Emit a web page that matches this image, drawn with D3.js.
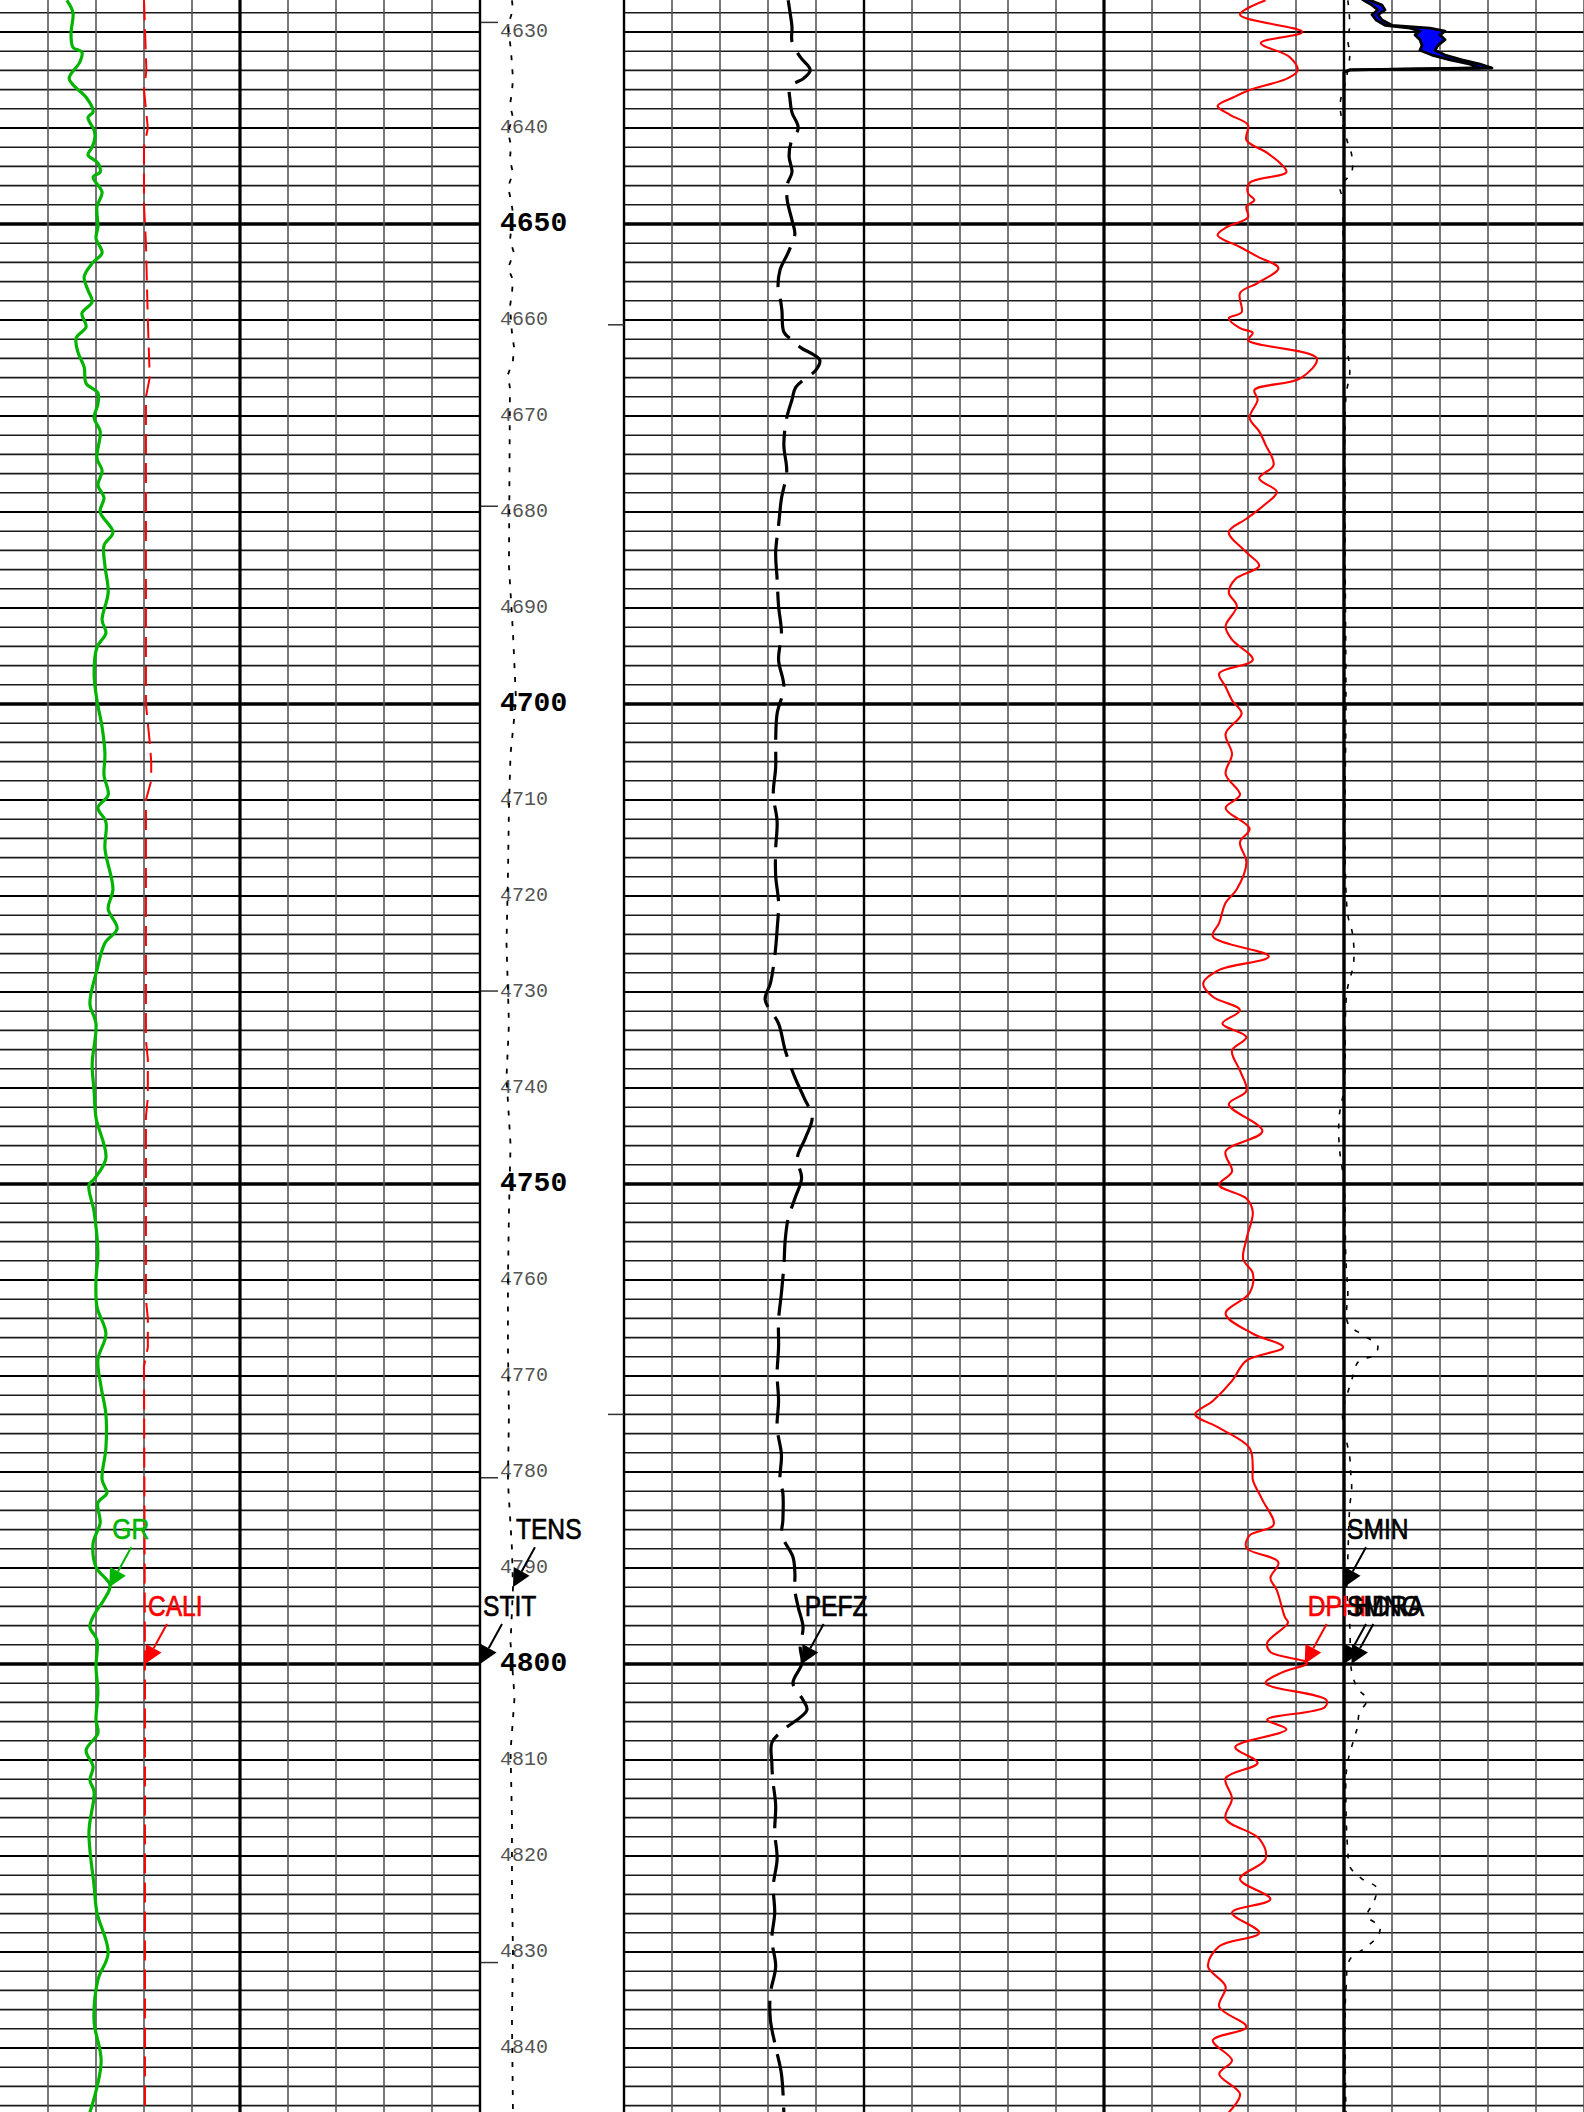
<!DOCTYPE html>
<html>
<head>
<meta charset="utf-8">
<script src="https://cdn.jsdelivr.net/npm/d3@7"></script>
<style>
  html, body { margin: 0; padding: 0; background: #ffffff; }
  svg { display: block; }
</style>
</head>
<body>
<svg id="log" width="1584" height="2112"></svg>
<script>
// ---- Curve data: [depth (ft), value] ----
const grData = [[4626.7,20.9],[4628.0,22.8],[4630.1,22.2],[4631.6,22.8],[4632.1,25.6],[4633.1,25.0],[4634.8,21.6],[4635.5,22.8],[4636.8,26.9],[4638.3,29.1],[4638.9,27.5],[4640.2,29.4],[4640.9,29.7],[4642.0,28.8],[4642.8,27.5],[4643.65,30.6],[4644.6,31.3],[4645.1,29.1],[4646.7,31.9],[4648.2,30.3],[4650.3,30.6],[4651.5,30.0],[4653.0,31.9],[4654.1,28.8],[4655.5,26.3],[4656.9,27.5],[4658.1,28.8],[4659.3,25.6],[4660.7,26.9],[4661.9,23.8],[4663.4,24.4],[4664.9,26.3],[4666.6,26.9],[4667.6,30.6],[4668.75,30.6],[4670.2,29.4],[4671.6,31.3],[4674.4,30.3],[4675.7,31.9],[4677.2,30.6],[4678.5,32.5],[4680.0,31.3],[4682.1,35.3],[4683.5,32.5],[4685.6,32.8],[4688.4,33.8],[4691.25,31.9],[4692.6,33.1],[4694.1,30.3],[4696.9,29.4],[4699.6,30.3],[4702.4,31.9],[4705.2,32.8],[4707.4,32.5],[4709.5,33.8],[4710.8,30.6],[4712.3,33.1],[4715.1,32.8],[4719.3,35.3],[4721.35,33.8],[4723.4,36.6],[4724.9,32.8],[4727.7,30.3],[4731.25,28.1],[4733.3,30.0],[4737.5,28.8],[4740.3,29.4],[4743.1,30.0],[4747.3,33.1],[4749.5,29.4],[4750.1,27.8],[4752.9,29.4],[4757.2,30.6],[4760.0,30.0],[4762.8,30.3],[4765.6,33.1],[4768.3,30.6],[4771.15,31.6],[4774.0,33.1],[4777.5,33.1],[4780.8,31.9],[4782.2,33.4],[4783.2,30.6],[4785.3,31.3],[4787.4,29.1],[4789.9,30.0],[4791.8,34.4],[4793.3,32.5],[4794.7,29.7],[4796.15,28.1],[4797.5,30.3],[4800.3,30.0],[4803.0,30.6],[4805.8,30.0],[4807.2,30.6],[4809.0,26.9],[4810.7,29.1],[4812.1,28.1],[4813.3,29.4],[4817.5,27.8],[4823.1,29.4],[4825.9,30.3],[4830.1,33.8],[4832.9,30.6],[4837.2,29.4],[4841.4,31.6],[4846.7,28.1]];

const caliData = [[4626.7,9.0],[4634,9.05],[4636,9.0],[4640,9.08],[4642,9.0],[4648,9.0],[4652,9.04],[4660,9.08],[4666,9.12],[4668,9.04],[4680,9.04],[4700,9.04],[4704,9.12],[4706,9.15],[4708,9.15],[4710,9.04],[4735,9.04],[4737,9.08],[4741,9.08],[4743,9.04],[4762,9.04],[4764,9.08],[4767,9.08],[4769,9.0],[4800,9.02],[4846.7,9.02]];

const tensData = [[4626.7,2220],[4627.7,2290],[4629.3,1940],[4631.9,2150],[4633.4,2220],[4634.8,2290],[4636.25,2220],[4637.6,2080],[4638.9,2290],[4640.4,1940],[4641.8,2150],[4643.3,2080],[4644.7,2290],[4646.15,1940],[4647.5,2150],[4648.9,2290],[4651.7,2080],[4653.0,2360],[4654.6,1940],[4655.8,2290],[4657.2,2220],[4658.6,2080],[4661.35,2220],[4662.8,2360],[4664.2,2290],[4665.7,1940],[4667.1,2080],[4685.6,2010],[4692.6,2290],[4699.6,2500],[4705.2,2120],[4710.85,2010],[4717.9,1940],[4724.9,1840],[4733.3,2010],[4738.9,1840],[4745.9,2120],[4753.0,2010],[4760.0,1940],[4767.0,1940],[4774.0,2010],[4781.0,1940],[4788.0,2220],[4792.1,2290],[4797.8,2120],[4803.45,2400],[4809.1,2120],[4816.1,2220],[4823.1,2220],[4830.1,2290],[4837.1,2220],[4846.7,2290]];

const stitData = [[4626.7,0],[4846.7,0]];

const pefzData = [[4626.7,3.42],[4628.0,3.46],[4629.5,3.50],[4631.0,3.50],[4632.6,3.67],[4633.96,3.88],[4634.8,3.75],[4635.7,3.46],[4637.1,3.46],[4638.4,3.50],[4640.0,3.63],[4641.5,3.48],[4643.0,3.44],[4644.6,3.50],[4645.9,3.40],[4647.5,3.40],[4649.6,3.50],[4651.0,3.56],[4652.0,3.50],[4653.2,3.40],[4654.8,3.25],[4656.6,3.21],[4657.6,3.25],[4659.0,3.29],[4661.25,3.33],[4662.1,3.50],[4662.9,3.69],[4663.65,3.96],[4664.2,4.08],[4665.2,4.00],[4667.0,3.58],[4668.3,3.50],[4670.2,3.39],[4673.0,3.33],[4675.8,3.39],[4678.6,3.28],[4681.4,3.22],[4684.2,3.16],[4687.0,3.19],[4689.8,3.22],[4692.6,3.28],[4695.4,3.22],[4698.2,3.33],[4701.0,3.19],[4703.8,3.16],[4706.6,3.16],[4709.4,3.11],[4712.25,3.19],[4715.05,3.16],[4717.9,3.16],[4720.7,3.22],[4723.5,3.19],[4726.3,3.14],[4729.1,3.05],[4730.8,2.94],[4733.3,3.22],[4736.1,3.36],[4738.9,3.56],[4741.0,3.75],[4743.1,3.92],[4745.2,3.78],[4747.3,3.61],[4749.4,3.70],[4751.5,3.56],[4753.6,3.42],[4755.75,3.36],[4758.55,3.33],[4761.35,3.28],[4764.2,3.22],[4767.0,3.22],[4769.8,3.19],[4772.6,3.22],[4775.4,3.19],[4778.2,3.28],[4780.8,3.25],[4782.2,3.31],[4785.0,3.31],[4786.6,3.29],[4788.85,3.52],[4790.5,3.56],[4792.3,3.56],[4794.1,3.63],[4796.15,3.73],[4798.25,3.67],[4799.9,3.71],[4802.0,3.52],[4803.75,3.73],[4804.8,3.81],[4806.9,3.31],[4808.2,3.08],[4810.3,3.08],[4812.1,3.10],[4814.7,3.16],[4817.5,3.14],[4820.3,3.19],[4823.1,3.11],[4825.9,3.14],[4828.7,3.08],[4831.5,3.16],[4834.3,3.05],[4837.1,3.05],[4839.9,3.16],[4842.7,3.28],[4846.7,3.33]];

const dphiData = [[4626.7,0.049],[4628.2,0.065],[4630.0,0.026],[4631.15,0.052],[4632.6,0.034],[4634.0,0.029],[4634.8,0.035],[4636.05,0.059],[4636.8,0.069],[4637.7,0.079],[4638.65,0.071],[4639.7,0.060],[4641.25,0.061],[4642.6,0.048],[4643.65,0.040],[4644.6,0.036],[4645.7,0.059],[4646.8,0.060],[4647.5,0.056],[4648.2,0.061],[4649.3,0.060],[4650.3,0.073],[4651.15,0.079],[4652.4,0.065],[4653.4,0.054],[4654.6,0.041],[4656.15,0.054],[4657.2,0.065],[4659.2,0.064],[4659.8,0.072],[4660.85,0.065],[4661.35,0.057],[4662.1,0.060],[4664.0,0.017],[4666.05,0.027],[4667.3,0.056],[4668.3,0.054],[4670.2,0.059],[4671.6,0.053],[4673.0,0.049],[4675.1,0.044],[4676.5,0.053],[4677.9,0.042],[4679.3,0.050],[4680.7,0.061],[4682.1,0.072],[4684.2,0.061],[4685.6,0.053],[4687.0,0.068],[4688.4,0.072],[4689.8,0.067],[4691.9,0.074],[4693.3,0.070],[4695.4,0.057],[4696.8,0.078],[4698.2,0.074],[4699.6,0.070],[4701.0,0.064],[4703.1,0.074],[4705.2,0.070],[4707.3,0.074],[4709.45,0.065],[4710.85,0.074],[4713.0,0.059],[4714.4,0.065],[4716.5,0.061],[4719.3,0.067],[4720.7,0.074],[4722.8,0.078],[4724.2,0.082],[4726.3,0.047],[4727.7,0.078],[4729.1,0.088],[4730.5,0.082],[4731.9,0.065],[4733.3,0.076],[4734.7,0.061],[4736.1,0.070],[4738.2,0.065],[4740.3,0.061],[4741.7,0.072],[4744.5,0.051],[4746.6,0.074],[4748.7,0.070],[4750.1,0.078],[4751.5,0.061],[4752.9,0.057],[4755.75,0.061],[4757.85,0.063],[4759.3,0.057],[4761.35,0.059],[4763.5,0.074],[4765.6,0.057],[4767.0,0.038],[4768.4,0.061],[4770.5,0.070],[4772.6,0.082],[4774.0,0.093],[4775.4,0.078],[4777.5,0.059],[4779.6,0.057],[4780.8,0.057],[4782.9,0.051],[4785.5,0.044],[4786.6,0.059],[4787.9,0.061],[4789.4,0.041],[4791.05,0.046],[4792.3,0.042],[4795.1,0.037],[4795.7,0.035],[4797.8,0.048],[4798.75,0.046],[4799.9,0.023],[4800.9,0.039],[4802.0,0.049],[4803.75,0.011],[4804.5,0.012],[4805.8,0.048],[4806.8,0.036],[4808.65,0.068],[4810.3,0.054],[4811.9,0.074],[4814.0,0.070],[4816.1,0.074],[4818.2,0.053],[4820.3,0.049],[4822.4,0.065],[4824.5,0.046],[4825.9,0.070],[4828.0,0.053],[4829.4,0.078],[4831.5,0.085],[4833.6,0.074],[4835.7,0.078],[4837.8,0.061],[4839.2,0.082],[4841.3,0.070],[4842.7,0.078],[4844.8,0.065],[4846.7,0.072]];

const sminData = [[4626.6,1.5],[4627.2,2.33],[4627.7,2.83],[4628.2,2.33],[4628.75,2.67],[4629.3,3.42],[4629.6,5.5],[4629.9,6.33],[4630.3,5.92],[4630.8,6.33],[4631.4,6.5],[4631.9,6.33],[4632.4,7.33],[4632.9,8.83],[4633.35,10.5],[4633.75,11.33],[4633.95,0.5],[4634.2,0],[4846.7,0]];
const smnoData = [[4626.6,2.0],[4627.2,3.17],[4627.7,3.42],[4628.2,2.83],[4628.75,3.17],[4629.3,4.0],[4629.6,7.17],[4629.9,8.42],[4630.3,8.0],[4630.8,8.42],[4631.4,7.83],[4631.9,7.58],[4632.4,8.42],[4632.9,9.83],[4633.35,11.33],[4633.75,12.33],[4633.95,0.5],[4634.2,0],[4846.7,0]];

const hdraData = [[4626.7,0.004],[4629.3,0.006],[4630.8,0.004],[4632.4,0.006],[4635,0.002],[4637.6,-0.004],[4641.25,0.003],[4642.8,0.008],[4644.6,0.008],[4646.15,-0.004],[4647.5,-0.001],[4650.9,-0.001],[4660.0,-0.001],[4662.1,-0.001],[4663.65,0.004],[4665.5,0.006],[4668,0.002],[4680,0.001],[4700,0.002],[4715,0.001],[4722,0.004],[4724,0.009],[4727,0.010],[4730,0.003],[4740,0.0],[4743,-0.005],[4746,-0.005],[4750,0.0],[4758,0.002],[4761.25,0.004],[4764.5,0.004],[4765.7,0.019],[4766.8,0.035],[4767.8,0.032],[4768.5,0.015],[4770.1,0.009],[4771.7,0.004],[4773.5,-0.001],[4774.9,-0.001],[4778.5,0.006],[4780.1,0.007],[4781.7,0.008],[4783.6,0.006],[4788.9,0.004],[4792.3,0.003],[4796,0.006],[4800.8,0.008],[4802.5,0.014],[4803.75,0.024],[4805.1,0.016],[4806.6,0.014],[4807.6,0.011],[4810.7,0.003],[4815,0.002],[4819.5,0.004],[4821.1,0.006],[4822.4,0.019],[4823.3,0.034],[4824.8,0.031],[4826.25,0.024],[4827.4,0.0375],[4828.5,0.034],[4829.7,0.020],[4830.8,0.006],[4834,0.002],[4837.8,0.001],[4846.7,0.002]];

// Depth annotation and marker ticks
const depthLabels = d3.range(4630, 4850, 10);
const leftMarkDepths = [4629.0, 4679.4, 4729.9, 4780.6, 4831.1];
const rightMarkDepths = [4660.5, 4774.0];

// Curve name tags: mnemonic and the depth at which its arrow points
const tagNames  = ["GR", "CALI", "TENS", "STIT", "PEFZ", "SMIN", "DPHI", "SMNO", "HDRA"];
const tagDepths = [4792, 4800, 4792, 4800, 4800, 4792, 4800, 4800, 4800];

// ---- Layout ----
const W = 1584, H = 2112;
const T1 = [0, 480], TD = [480, 624], T2 = [624, 1584];
const y = d3.scaleLinear().domain([4626.6667, 4846.6667]).range([0, H]);

const svg = d3.select("#log");
const defs = svg.append("defs");
defs.append("clipPath").attr("id", "clip1").append("rect")
  .attr("x", T1[0]).attr("y", 0).attr("width", T1[1] - T1[0]).attr("height", H);
defs.append("clipPath").attr("id", "clipD").append("rect")
  .attr("x", TD[0]).attr("y", 0).attr("width", TD[1] - TD[0]).attr("height", H);
defs.append("clipPath").attr("id", "clip2").append("rect")
  .attr("x", T2[0]).attr("y", 0).attr("width", T2[1] - T2[0]).attr("height", H);

// ---- Curve definitions (scale + style) ----
const curves = {
  GR:   { data: grData,   x: d3.scaleLinear([0, 150], [0, 480]),      color: "#00b400", width: 3.2, dash: null,     clip: "clip1", interp: d3.curveCatmullRom },
  CALI: { data: caliData, x: d3.scaleLinear([6, 16], [0, 480]),       color: "#ff0000", width: 2,   dash: "20,9",   clip: "clip1", interp: d3.curveLinear },
  TENS: { data: tensData, x: d3.scaleLinear([0, 10000], [480, 624]),  color: "#000000", width: 1.8, dash: "5,9",    clip: "clipD", interp: d3.curveLinear },
  STIT: { data: stitData, x: d3.scaleLinear([0, 10000], [480, 624]),  color: "#000000", width: 2,   dash: null,     clip: null,    interp: d3.curveLinear },
  PEFZ: { data: pefzData, x: d3.scaleLinear([0, 10], [624, 1104]),    color: "#000000", width: 3.2, dash: "42,12",  clip: "clip2", interp: d3.curveCatmullRom },
  SMIN: { data: sminData, x: d3.scaleLinear([0, 20], [1344, 1584]),   color: "#000000", width: 2.8, dash: null,     clip: "clip2", interp: d3.curveLinear },
  DPHI: { data: dphiData, x: d3.scaleLinear([0.45, -0.15], [624, 1584]), color: "#ff0000", width: 2.1, dash: null, clip: "clip2", interp: d3.curveCatmullRom },
  SMNO: { data: smnoData, x: d3.scaleLinear([0, 20], [1344, 1584]),   color: "#000000", width: 2.8, dash: null,     clip: "clip2", interp: d3.curveLinear },
  HDRA: { data: hdraData, x: d3.scaleLinear([-0.25, 0.25], [1104, 1584]), color: "#000000", width: 1.6, dash: "5,9", clip: "clip2", interp: d3.curveCatmullRom }
};

// ---- Grid ----
const grid = svg.append("g").attr("class", "grid");
const hDepths = d3.range(4628, 4847, 2);
function hStyle(d) {
  if (d % 50 === 0) return { w: 3.6, c: "#000" };
  if (d % 10 === 0) return { w: 2.2, c: "#000" };
  return { w: 1.6, c: "#1a1a1a" };
}
[T1, T2].forEach(t => {
  grid.selectAll(null).data(hDepths).enter().append("line")
    .attr("x1", t[0]).attr("x2", t[1])
    .attr("y1", d => y(d)).attr("y2", d => y(d))
    .attr("stroke", d => hStyle(d).c)
    .attr("stroke-width", d => hStyle(d).w);
});

// vertical lines, track 1 (10 divisions)
const v1 = d3.range(1, 11).map(i => ({ x: T1[0] + i * 48, i }));
grid.selectAll(null).data(v1).enter().append("line")
  .attr("x1", d => d.x).attr("x2", d => d.x).attr("y1", 0).attr("y2", H)
  .attr("stroke", d => (d.i === 5 || d.i === 10) ? "#000" : "#555")
  .attr("stroke-width", d => d.i === 5 ? 3.2 : d.i === 10 ? 2.4 : 1.6);

// vertical lines, track 2 (20 divisions)
const v2 = d3.range(0, 21).map(i => ({ x: T2[0] + i * 48, i }));
grid.selectAll(null).data(v2).enter().append("line")
  .attr("x1", d => d.x).attr("x2", d => d.x).attr("y1", 0).attr("y2", H)
  .attr("stroke", d => (d.i % 5 === 0 && d.i < 20) ? "#000" : "#555")
  .attr("stroke-width", d => d.i === 10 ? 3.2 : (d.i % 5 === 0 && d.i < 20) ? 2.4 : 1.6);

// marker ticks on the depth-track borders
grid.selectAll(null).data(leftMarkDepths).enter().append("line")
  .attr("x1", TD[0]).attr("x2", TD[0] + 18)
  .attr("y1", d => y(d)).attr("y2", d => y(d))
  .attr("stroke", "#333").attr("stroke-width", 1.5);
grid.selectAll(null).data(rightMarkDepths).enter().append("line")
  .attr("x1", TD[1] - 16).attr("x2", TD[1])
  .attr("y1", d => y(d)).attr("y2", d => y(d))
  .attr("stroke", "#333").attr("stroke-width", 1.5);

// ---- Depth numbers ----
svg.append("g").selectAll("text").data(depthLabels).enter().append("text")
  .attr("x", 500)
  .attr("y", d => y(d))
  .attr("dominant-baseline", "central")
  .attr("font-family", "'Liberation Mono','Courier New',monospace")
  .attr("font-size", d => d % 50 === 0 ? 28 : 20)
  .attr("font-weight", d => d % 50 === 0 ? "bold" : "normal")
  .attr("fill", d => d % 50 === 0 ? "#000" : "#555")
  .text(d => d);

// ---- Curves ----
const curveLayer = svg.append("g");

// blue fill where SMNO reads above SMIN
const sep = sminData.map((p, i) => [p[0], p[1], smnoData[i][1]]);
curveLayer.append("path")
  .attr("clip-path", "url(#clip2)")
  .attr("d", d3.area()
    .y(d => y(d[0]))
    .x0(d => curves.SMIN.x(d[1]))
    .x1(d => curves.SMIN.x(Math.max(d[1], d[2])))(sep))
  .attr("fill", "#0000ff");

["STIT", "TENS", "GR", "CALI", "PEFZ", "DPHI", "HDRA", "SMNO", "SMIN"].forEach(name => {
  const c = curves[name];
  const line = d3.line().x(d => c.x(d[1])).y(d => y(d[0])).curve(c.interp);
  const p = curveLayer.append("path")
    .attr("d", line(c.data))
    .attr("fill", "none")
    .attr("stroke", c.color)
    .attr("stroke-width", c.width)
    .attr("stroke-linejoin", "round");
  if (c.clip) p.attr("clip-path", `url(#${c.clip})`);
  if (c.dash) p.attr("stroke-dasharray", c.dash);
});

// ---- Curve name tags with arrows ----
function valueAt(data, depth) {
  const i = d3.bisector(d => d[0]).left(data, depth);
  if (i <= 0) return data[0][1];
  if (i >= data.length) return data[data.length - 1][1];
  const a = data[i - 1], b = data[i];
  const t = (depth - a[0]) / (b[0] - a[0]);
  return a[1] + t * (b[1] - a[1]);
}

const tags = svg.append("g");
tagNames.forEach((name, k) => {
  const c = curves[name];
  const depth = tagDepths[k];
  const tx = c.x(valueAt(c.data, depth));
  const ty = y(depth);
  const sx = tx + 22, sy = ty - 40;
  const ang = Math.atan2(ty - sy, tx - sx);
  const hl = 18, hw = 9;
  const bx = tx - hl * Math.cos(ang), by = ty - hl * Math.sin(ang);
  const px = -Math.sin(ang) * hw, py = Math.cos(ang) * hw;
  tags.append("line")
    .attr("x1", sx).attr("y1", sy).attr("x2", bx).attr("y2", by)
    .attr("stroke", c.color).attr("stroke-width", 2);
  tags.append("path")
    .attr("d", `M${tx},${ty}L${bx + px},${by + py}L${bx - px},${by - py}Z`)
    .attr("fill", c.color);
  // condensed label: regular sans squeezed horizontally, lightly stroked
  tags.append("text")
    .attr("transform", `translate(${tx + 3},${ty - 48}) scale(0.82,1)`)
    .attr("font-family", "'Liberation Sans',Arial,sans-serif")
    .attr("font-size", 30)
    .attr("fill", c.color)
    .attr("stroke", c.color)
    .attr("stroke-width", 0.7)
    .text(name);
});
</script>
</body>
</html>
